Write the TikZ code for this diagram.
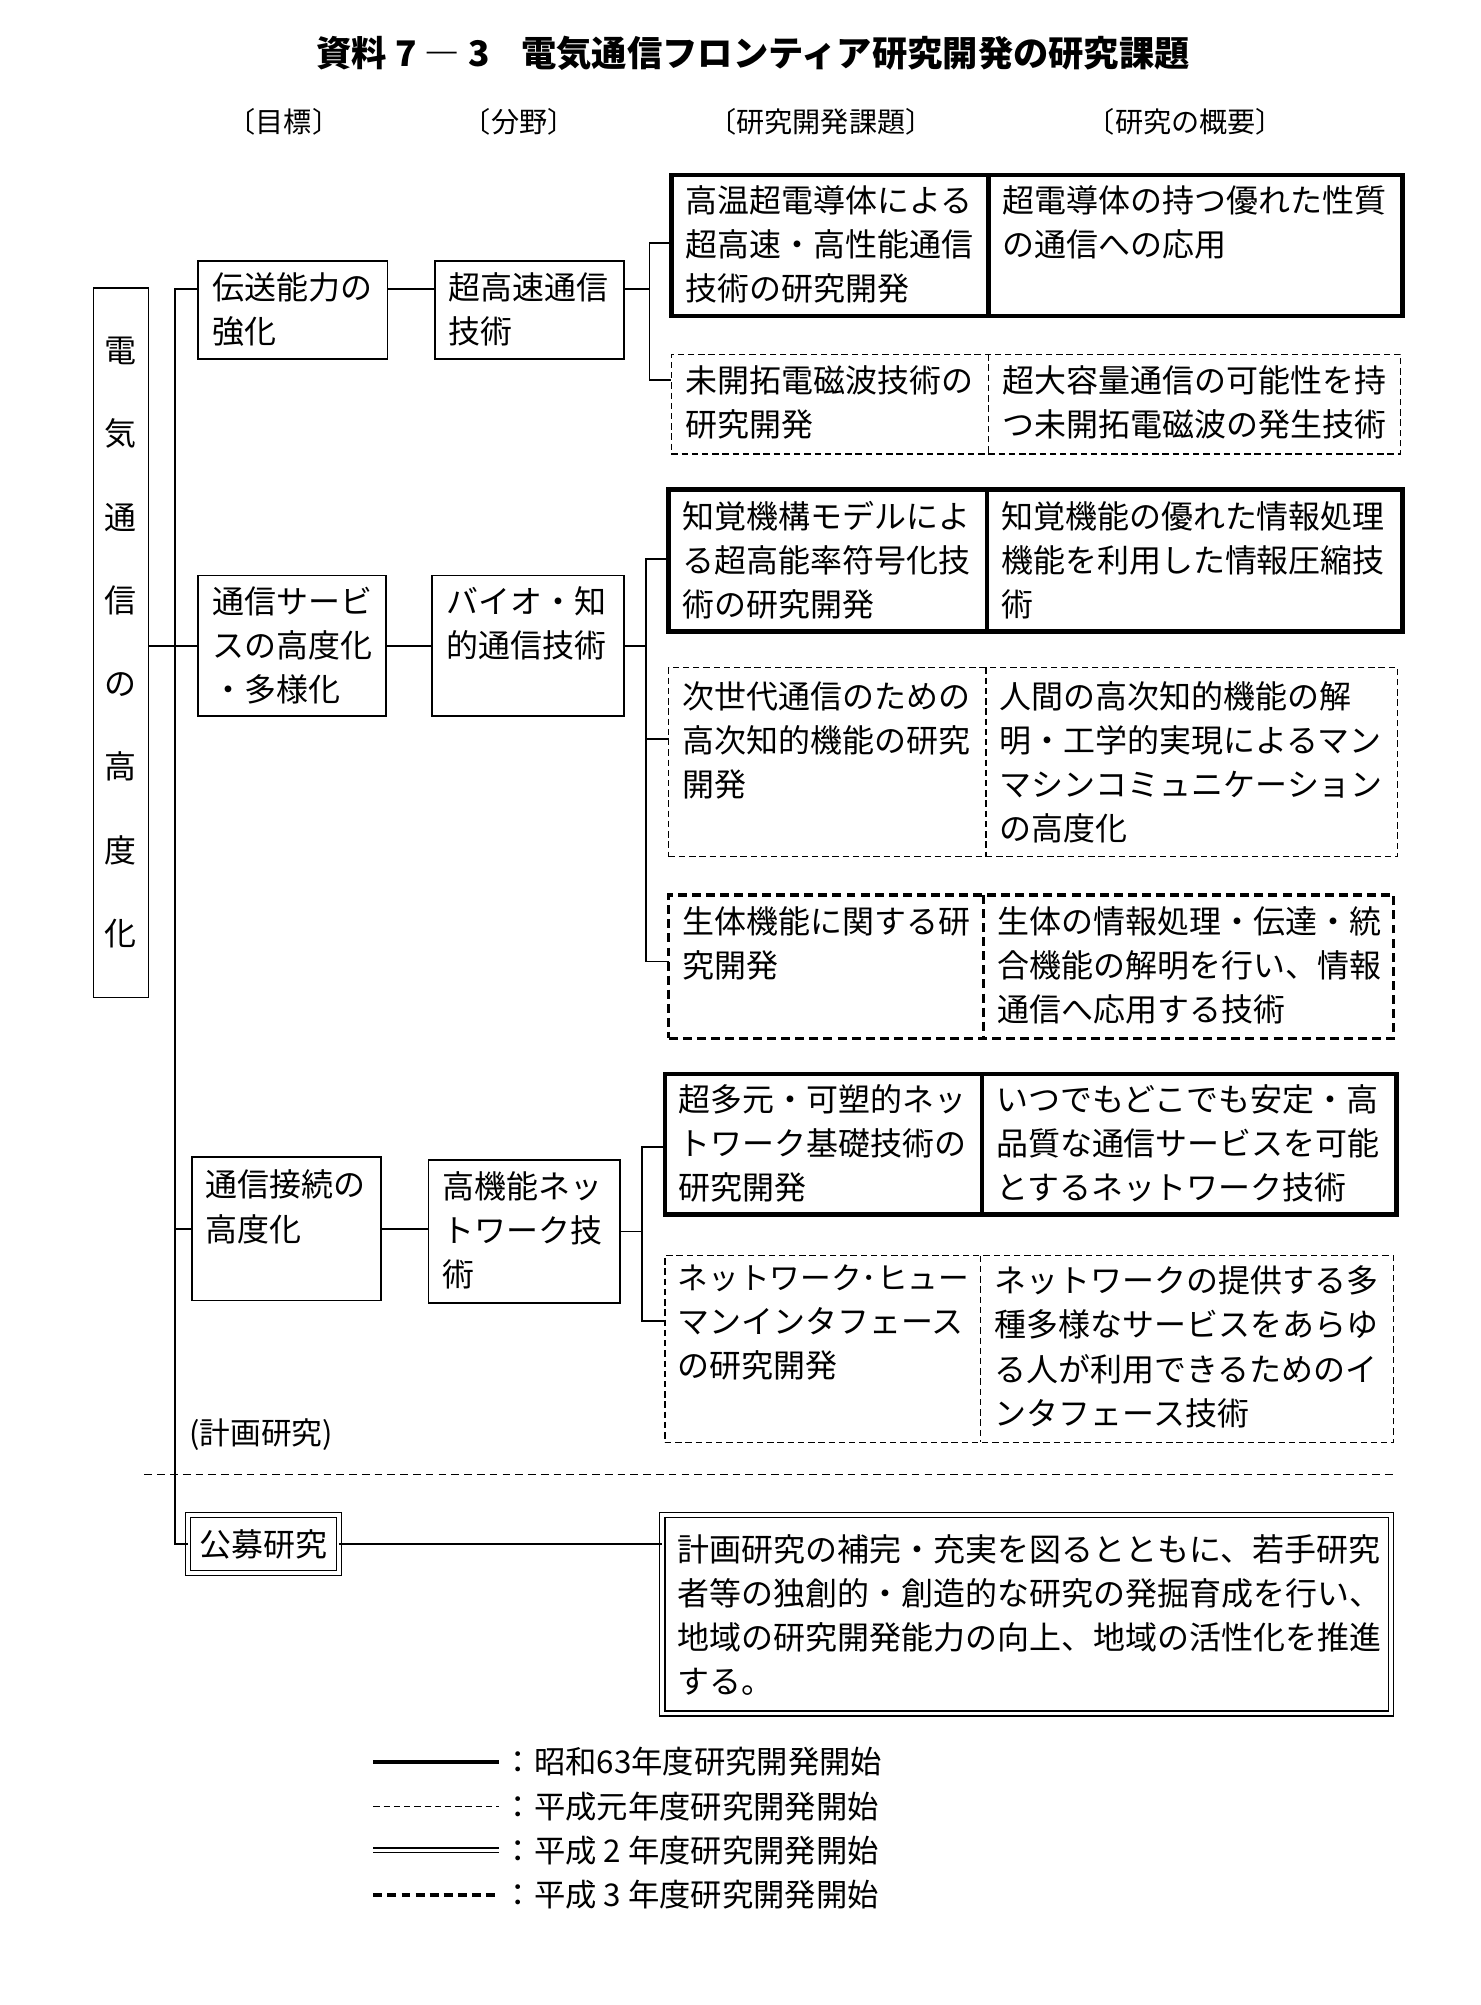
\documentclass[tikz,border=0pt]{standalone}
\usepackage{fontspec}
\setmainfont{Noto Sans CJK JP}
\usetikzlibrary{calc}
\tikzset{
  conn/.style={line width=1.3pt},
  frm/.style={draw, line width=1.3pt, inner sep=0pt, outer sep=0pt, anchor=north west},
  boldfrm/.style={frm, line width=3.6pt},
  dashfrm/.style={frm, line width=1pt, dash pattern=on 5pt off 3pt},
  dashfrmb/.style={frm, line width=2.6pt, dash pattern=on 7pt off 4pt},
  dblfrm/.style={frm, line width=1pt, double, double distance=3pt},
  txt/.style={inner sep=0pt, outer sep=0pt, anchor=north west, align=left, font=\fontsize{25}{34.5}\selectfont},
  hdr/.style={inner sep=0pt, font=\fontsize{22}{22}\selectfont},
  lgt/.style={inner sep=0pt, anchor=west, font=\fontsize{24.5}{24.5}\selectfont},
}
\begin{document}
\begin{tikzpicture}[x=1pt,y=-1pt]
\fill[white] (0,0) rectangle (1158,1568);
\useasboundingbox (0,0) rectangle (1158,1568);

% title and headers
\node[inner sep=0pt, font=\fontsize{27.6}{27.6}\bfseries\selectfont] (title) at (589,42) {資料 7 ― 3\hspace{0.9em}電気通信フロンティア研究開発の研究課題};
\node[hdr] (h1) at (222,95) {〔目標〕};
\node[hdr] (h2) at (406,95) {〔分野〕};
\node[hdr] (h3) at (642,95) {〔研究開発課題〕};
\node[hdr] (h4) at (927,95) {〔研究の概要〕};

% root
\node[frm, anchor=center, minimum width=43, minimum height=555, align=center, font=\fontsize{25}{65.14}\selectfont] (root) at (94.5,502.5) {電\\気\\通\\信\\の\\高\\度\\化};

% group 1
\node[frm, minimum width=148, minimum height=77] (a1) at (155,204) {};
\node[txt] (a1t) at ($(a1.north west)+(11,9)$) {伝送能力の\\強化};
\node[frm, minimum width=148, minimum height=77] (b1) at (340,204) {};
\node[txt] (b1t) at ($(b1.north west)+(11,9)$) {超高速通信\\技術};
\node[boldfrm, minimum width=572, minimum height=110] (c1) at (525,137) {};
\draw[line width=3.6pt] ($(c1.north west)+(248,0)$) -- ($(c1.south west)+(248,0)$);
\node[txt] (c1l) at ($(c1.north west)+(11,8)$) {高温超電導体による\\超高速・高性能通信\\技術の研究開発};
\node[txt] (c1r) at ($(c1.north west)+(259,8)$) {超電導体の持つ優れた性質\\の通信への応用};
\node[dashfrm, minimum width=570, minimum height=78] (c2) at (525,277) {};
\draw[line width=1pt, dash pattern=on 5pt off 3pt] ($(c2.north west)+(248,0)$) -- ($(c2.south west)+(248,0)$);
\node[txt] (c2l) at ($(c2.north west)+(11,9)$) {未開拓電磁波技術の\\研究開発};
\node[txt] (c2r) at ($(c2.north west)+(259,9)$) {超大容量通信の可能性を持\\つ未開拓電磁波の発生技術};

% group 2
\node[frm, minimum width=147, minimum height=110] (a2) at (155,450) {};
\node[txt] (a2t) at ($(a2.north west)+(11,9)$) {通信サービ\\スの高度化\\・多様化};
\node[frm, minimum width=150, minimum height=110] (b2) at (338,450) {};
\node[txt] (b2t) at ($(b2.north west)+(11,9)$) {バイオ・知\\的通信技術};
\node[boldfrm, minimum width=574, minimum height=111] (c3) at (523,383) {};
\draw[line width=3.6pt] ($(c3.north west)+(249,0)$) -- ($(c3.south west)+(249,0)$);
\node[txt] (c3l) at ($(c3.north west)+(11,9)$) {知覚機構モデルによ\\る超高能率符号化技\\術の研究開発};
\node[txt] (c3r) at ($(c3.north west)+(260,9)$) {知覚機能の優れた情報処理\\機能を利用した情報圧縮技\\術};
\node[dashfrm, minimum width=570, minimum height=148] (c4) at (523,522) {};
\draw[line width=1pt, dash pattern=on 5pt off 3pt] ($(c4.north west)+(248,0)$) -- ($(c4.south west)+(248,0)$);
\node[txt] (c4l) at ($(c4.north west)+(11,11)$) {次世代通信のための\\高次知的機能の研究\\開発};
\node[txt] (c4r) at ($(c4.north west)+(259,11)$) {人間の高次知的機能の解\\明・工学的実現によるマン\\マシンコミュニケーション\\の高度化};
\node[dashfrmb, minimum width=567, minimum height=112] (c5) at (523,700) {};
\draw[line width=2.6pt, dash pattern=on 7pt off 4pt] ($(c5.north west)+(246,0)$) -- ($(c5.south west)+(246,0)$);
\node[txt] (c5l) at ($(c5.north west)+(11,9)$) {生体機能に関する研\\究開発};
\node[txt] (c5r) at ($(c5.north west)+(257,9)$) {生体の情報処理・伝達・統\\合機能の解明を行い、情報\\通信へ応用する技術};

% group 3
\node[frm, minimum width=148, minimum height=112] (a3) at (150,905) {};
\node[txt] (a3t) at ($(a3.north west)+(11,10)$) {通信接続の\\高度化};
\node[frm, minimum width=150, minimum height=112] (b3) at (335,907) {};
\node[txt] (b3t) at ($(b3.north west)+(11,9)$) {高機能ネッ\\トワーク技\\術};
\node[boldfrm, minimum width=572, minimum height=110] (c6) at (520,840) {};
\draw[line width=3.6pt] ($(c6.north west)+(248,0)$) -- ($(c6.south west)+(248,0)$);
\node[txt] (c6l) at ($(c6.north west)+(11,8)$) {超多元・可塑的ネッ\\トワーク基礎技術の\\研究開発};
\node[txt] (c6r) at ($(c6.north west)+(259,8)$) {いつでもどこでも安定・高\\品質な通信サービスを可能\\とするネットワーク技術};
\node[dashfrm, minimum width=570, minimum height=146] (c7) at (520,982) {};
\draw[line width=1pt, dash pattern=on 5pt off 3pt] ($(c7.north west)+(247,0)$) -- ($(c7.south west)+(247,0)$);
\node[txt] (c7l) at ($(c7.north west)+(10,7)$) {{\fontsize{24}{34.5}\selectfont ネットワーク･ヒュー}\\マンインタフェース\\の研究開発};
\node[txt] (c7r) at ($(c7.north west)+(258,8)$) {ネットワークの提供する多\\種多様なサービスをあらゆ\\る人が利用できるためのイ\\ンタフェース技術};

% planned / public
\node[inner sep=0pt, anchor=west, font=\fontsize{24}{24}\selectfont] (keikaku) at (148,1122) {(計画研究)};
\coordinate (sepa) at (113,1153);
\coordinate (sepb) at (1090,1153);
\draw[line width=1.1pt, dash pattern=on 6pt off 4pt] (sepa) -- (sepb);
\node[dblfrm, minimum width=118, minimum height=45, font=\fontsize{25}{25}\selectfont] (kobo) at (147,1185) {公募研究};
\node[dblfrm, minimum width=570, minimum height=155] (dbox) at (518,1185) {};
\node[txt] (dt) at ($(dbox.north west)+(12,15)$) {計画研究の補完・充実を図るとともに、若手研究\\者等の独創的・創造的な研究の発掘育成を行い、\\地域の研究開発能力の向上、地域の活性化を推進\\する。};

% connectors
\coordinate (trk) at (137,226);
\draw[conn] (a1.west |- trk) -- (trk) -- (trk |- kobo.west) -- (kobo.west);
\draw[conn] (root.east |- a2.west) -- (a2.west);
\draw[conn] (trk |- a3.west) -- (a3.west);
\draw[conn] (a1.east |- trk) -- (b1.west |- trk);
\draw[conn] (a2.east) -- (b2.west |- a2.east);
\draw[conn] (a3.east) -- (b3.west |- a3.east);

\coordinate (g1) at (508,226);
\draw[conn] (b1.east |- g1) -- (g1);
\draw[conn] (c1.west |- 0,190) -- (g1 |- 0,190) -- (g1 |- 0,297) -- (c2.west |- 0,297);

\coordinate (g2) at (505,505);
\draw[conn] (b2.east |- g2) -- (g2);
\draw[conn] (c3.west |- 0,437) -- (g2 |- 0,437) -- (g2 |- 0,752) -- (c5.west |- 0,752);
\draw[conn] (g2 |- 0,578) -- (c4.west |- 0,578);

\coordinate (g3) at (502,963);
\draw[conn] (b3.east |- g3) -- (g3);
\draw[conn] (c6.west |- 0,897) -- (g3 |- 0,897) -- (g3 |- 0,1033) -- (c7.west |- 0,1033);

\draw[conn] (kobo.east) -- (dbox.west |- kobo.east);

% legend
\coordinate (l1a) at (292,1378); \coordinate (l1b) at (390,1378);
\coordinate (l2a) at (292,1413); \coordinate (l2b) at (390,1413);
\coordinate (l3a) at (292,1447); \coordinate (l3b) at (390,1447);
\coordinate (l4a) at (292,1482); \coordinate (l4b) at (390,1482);
\draw[line width=3.8pt] (l1a) -- (l1b);
\draw[line width=1pt, dash pattern=on 5pt off 3pt] (l2a) -- (l2b);
\draw[line width=1pt, double, double distance=2.5pt] (l3a) -- (l3b);
\draw[line width=2.6pt, dash pattern=on 7pt off 4pt] (l4a) -- (l4b);
\node[lgt] (lt1) at (393,1378) {：昭和63年度研究開発開始};
\node[lgt] (lt2) at (393,1413) {：平成元年度研究開発開始};
\node[lgt] (lt3) at (393,1447) {：平成 2 年度研究開発開始};
\node[lgt] (lt4) at (393,1482) {：平成 3 年度研究開発開始};
\end{tikzpicture}
\end{document}
